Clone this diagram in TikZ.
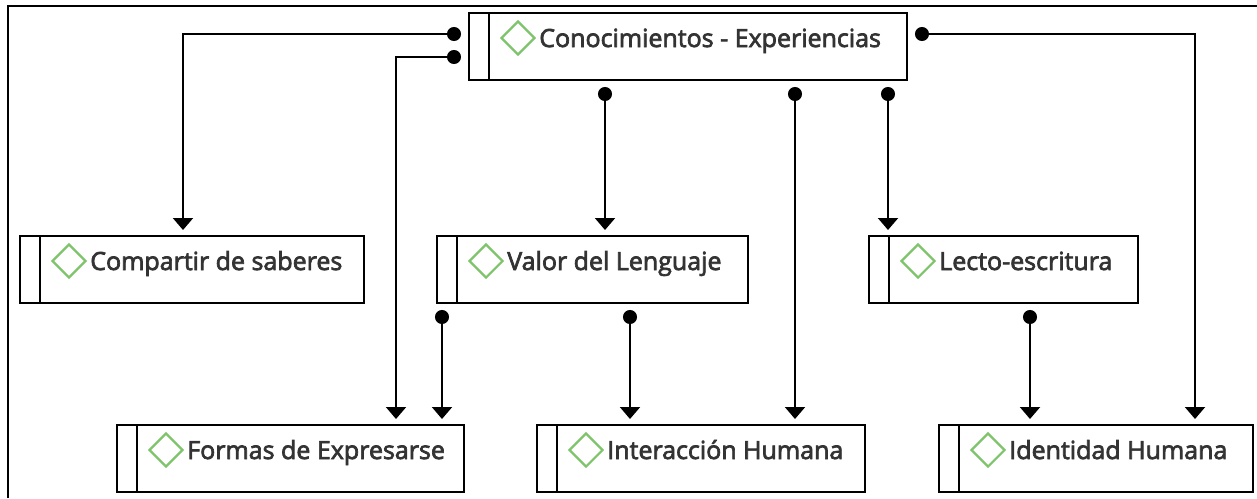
\documentclass[tikz,border=0pt]{standalone}
\usepackage{fontspec}
\setmainfont{Open Sans}[FakeBold=2.8]
\usetikzlibrary{arrows.meta,shapes.geometric,calc}
\definecolor{txt}{HTML}{333333}
\definecolor{dgreen}{HTML}{7DC46A}
\tikzset{
  cbox/.style={draw=black, line width=2pt, rectangle, inner sep=0pt},
  divline/.style={draw=black, line width=2pt},
  diam/.style={shape=diamond, draw=dgreen, line width=2.2pt, minimum width=34pt, minimum height=34pt, inner sep=0pt},
  lbl/.style={inner sep=0pt, text=txt, font=\fontsize{25}{28}\selectfont},
  conn/.style={draw=black, line width=2pt, {Circle[length=14pt]}-{Triangle[length=12pt,width=20pt]}, shorten >=5pt},
  frame/.style={draw=black, line width=2pt},
}
\newcommand\concept[6]{%
  \node[cbox, minimum width=#4pt, minimum height=#5pt, anchor=north west] (#1) at (#2,#3) {};
  \draw[divline] ([xshift=21pt]#1.north west) -- ([xshift=21pt]#1.south west);
  \node[diam] (#1-d) at ([xshift=50pt, yshift=-26pt]#1.north west) {};
  \node[lbl, anchor=base west] (#1-t) at ([xshift=3pt, yshift=-9pt]#1-d.east) {#6};
}
\begin{document}
\begin{tikzpicture}[x=1pt, y=-1pt]
\useasboundingbox (0,0) rectangle (1257,498);
\draw[frame] (8,498) -- (8,6) -- (1257,6);

\concept{top}{468}{12}{438}{67}{Conocimientos - Experiencias}
\concept{comp}{19}{235}{344}{67}{Compartir de saberes}
\concept{valor}{436}{235}{311}{67}{Valor del Lenguaje}
\concept{lecto}{868}{235}{269}{67}{Lecto-escritura}
\concept{formas}{116}{424}{347}{67}{Formas de Expresarse}
\concept{inter}{536}{424}{328}{67}{Interacción Humana}
\concept{ident}{938}{424}{314}{67}{Identidad Humana}

\coordinate (s1) at ([xshift=-7pt, yshift=-22pt]top.north west);
\coordinate (s2) at ([xshift=-7pt, yshift=-45pt]top.north west);
\coordinate (s3) at ([xshift=7pt, yshift=-22pt]top.north east);
\coordinate (s4) at ([xshift=137pt, yshift=-6pt]top.south west);
\coordinate (s5) at ([xshift=327pt, yshift=-6pt]top.south west);
\coordinate (s6) at ([xshift=420pt, yshift=-6pt]top.south west);
\coordinate (s7) at ([xshift=6pt, yshift=-6pt]valor.south west);
\coordinate (s8) at ([xshift=194pt, yshift=-6pt]valor.south west);
\coordinate (s9) at ([xshift=162pt, yshift=-6pt]lecto.south west);

\draw[conn] (s1) -| ([xshift=164pt]comp.north west);
\draw[conn] (s2) -| ([xshift=280pt]formas.north west);
\draw[conn] (s3) -| ([xshift=257pt]ident.north west);
\draw[conn] (s4) -- (s4 |- valor.north);
\draw[conn] (s5) -- (s5 |- inter.north);
\draw[conn] (s6) -- (s6 |- lecto.north);
\draw[conn] (s7) -- (s7 |- formas.north);
\draw[conn] (s8) -- (s8 |- inter.north);
\draw[conn] (s9) -- (s9 |- ident.north);
\end{tikzpicture}
\end{document}
